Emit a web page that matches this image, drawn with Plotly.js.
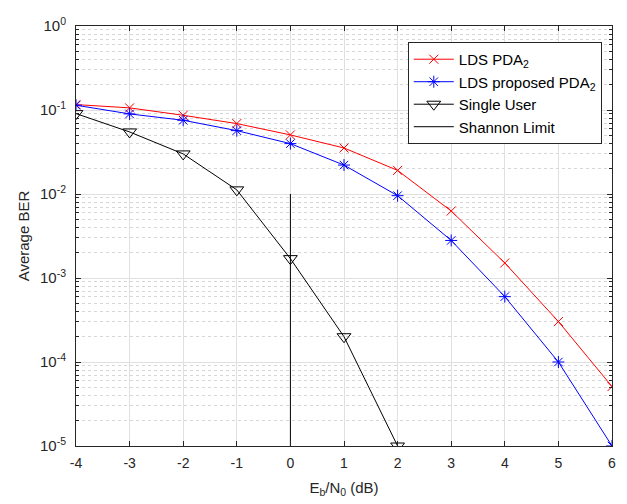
<!DOCTYPE html>
<html>
<head>
<meta charset="utf-8">
<script src="https://cdn.plot.ly/plotly-3.0.1.min.js"></script>
<style>html,body{margin:0;padding:0;background:#fff}#chart{width:627px;height:504px}</style>
</head>
<body>
<div id="chart"></div>
<script>
const ebn0 = [-4, -3, -2, -1, 0, 1, 2, 3, 4, 5, 6];
const berPDA = [0.116, 0.106, 0.0865, 0.0689, 0.0505, 0.0353, 0.0191, 0.00627, 0.00151, 0.000303, 0.000051];
const berProposed = [0.114, 0.0898, 0.0755, 0.0568, 0.0398, 0.0221, 0.00955, 0.0028, 0.0006, 0.0001, 0.00001];
const ebn0Single = [-4, -3, -2, -1, 0, 1, 2];
const berSingle = [0.0906, 0.0548, 0.030, 0.0112, 0.0017, 0.0002, 0.00001];
const shannonX = [0, 0];
const shannonY = [0.00001, 0.01];
const yTickVals = [1e-5, 1e-4, 1e-3, 1e-2, 1e-1, 1];
const yTickText = ['10<sup>-5</sup>', '10<sup>-4</sup>', '10<sup>-3</sup>', '10<sup>-2</sup>', '10<sup>-1</sup>', '10<sup>0</sup>'];
const xTickVals = [-4, -3, -2, -1, 0, 1, 2, 3, 4, 5, 6];
const xTickText = ['-4', '-3', '-2', '-1', '0', '1', '2', '3', '4', '5', '6'];

const traces = [
  {x: ebn0, y: berPDA, name: 'LDS PDA<sub>2</sub>', mode: 'lines+markers',
   line: {color: '#ff0000', width: 1}, marker: {symbol: 'x-thin-open', size: 9, color: '#ff0000', line: {width: 1, color: '#ff0000'}}},
  {x: ebn0, y: berProposed, name: 'LDS proposed PDA<sub>2</sub>', mode: 'lines+markers',
   line: {color: '#0000ff', width: 1}, marker: {symbol: 'asterisk-open', size: 10, color: '#0000ff', line: {width: 1, color: '#0000ff'}}},
  {x: ebn0Single, y: berSingle, name: 'Single User', mode: 'lines+markers',
   line: {color: '#000000', width: 1}, marker: {symbol: 'triangle-down-open', size: 12, color: '#000000', line: {width: 1, color: '#000000'}}},
  {x: shannonX, y: shannonY, name: 'Shannon Limit', mode: 'lines',
   line: {color: '#000000', width: 1}}
];

const layout = {
  width: 627, height: 504,
  margin: {l: 76, r: 15, t: 26, b: 58},
  paper_bgcolor: '#ffffff', plot_bgcolor: '#ffffff',
  font: {family: 'Liberation Sans, Arial, sans-serif', size: 14, color: '#262626'},
  showlegend: true,
  legend: {x: 0.619, y: 0.962, xanchor: 'left', yanchor: 'top', bgcolor: '#ffffff',
           bordercolor: '#262626', borderwidth: 1, font: {size: 15, color: '#000000'},
           tracegroupgap: 5, itemwidth: 40},
  xaxis: {
    range: [-4, 6], tickvals: xTickVals, ticktext: xTickText, ticks: 'inside', ticklen: 5, tickcolor: '#262626',
    showline: true, linecolor: '#262626', linewidth: 1, mirror: 'ticks',
    showgrid: true, gridcolor: '#e0e0e0', gridwidth: 1, zeroline: false,
    tickfont: {size: 14, color: '#262626'}, ticklabelstandoff: 4,
    title: {text: 'E<sub>b</sub>/N<sub>0</sub> (dB)', font: {size: 15, color: '#262626'}, standoff: 12}
  },
  yaxis: {
    type: 'log', range: [-5, 0], tickvals: yTickVals, ticktext: yTickText,
    ticks: 'inside', ticklen: 5, tickcolor: '#262626',
    showline: true, linecolor: '#262626', linewidth: 1, mirror: 'ticks',
    showgrid: true, gridcolor: '#e0e0e0', gridwidth: 1, zeroline: false,
    tickfont: {size: 15, color: '#262626'}, ticklabelstandoff: 6,
    minor: {dtick: 'D1', ticks: 'inside', ticklen: 3, tickcolor: '#262626', showgrid: true, gridcolor: '#d6d6d6', griddash: 'dot', gridwidth: 1},
    title: {text: 'Average BER', font: {size: 15, color: '#262626'}, standoff: 6}
  }
};

Plotly.newPlot('chart', traces, layout, {displayModeBar: false, staticPlot: true});
</script>
</body>
</html>
